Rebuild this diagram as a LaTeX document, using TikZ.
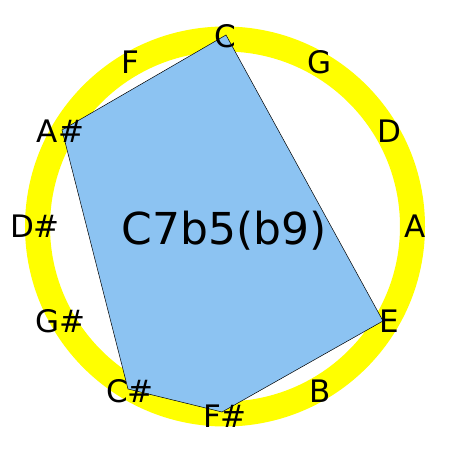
\documentclass[tikz,border=0pt]{standalone}
\usepackage{fontspec}
\setmainfont{DejaVu Sans}
\usetikzlibrary{calc}
\definecolor{ringyellow}{RGB}{255,255,0}
\definecolor{chordblue}{RGB}{140,195,242}

\begin{document}
\begin{tikzpicture}[x=1pt, y=1pt,
    notelabel/.style={font=\fontsize{31}{31}\selectfont, inner sep=0pt},
    chordname/.style={font=\fontsize{44}{44}\selectfont, inner sep=0pt, anchor=base}]
            \useasboundingbox (0, 0) rectangle (450, 450);
            \coordinate (mid) at (225, 223.5);
            % ring of fifths
            \draw[ringyellow, line width=25pt] (mid) circle[radius=187.5pt];
            % chord tones
            \coordinate (vc) at (226, 415);
            \coordinate (ve) at (383, 129);
            \coordinate (vfs) at (222, 38);
            \coordinate (vcs) at (128, 61);
            \coordinate (vas) at (62, 320);
            \filldraw[fill=chordblue, draw=black, line width=0.5pt]
                (vc) -- (ve) -- (vfs) -- (vcs) -- (vas) -- cycle;
            \foreach \tag/\txt [count=\i from 0] in {c/C, g/G, d/D, a/A, e/E, b/B,
                    fs/F\#, cs/C\#, gs/G\#, ds/D\#, as/A\#, f/F}
                \node[notelabel] (\tag) at ($(mid) + ({90-30*\i}:190)$) {\txt};
            \node[chordname] (chord) at (224, 205.5) {C7b5(b9)};
        \end{tikzpicture}
\end{document}
